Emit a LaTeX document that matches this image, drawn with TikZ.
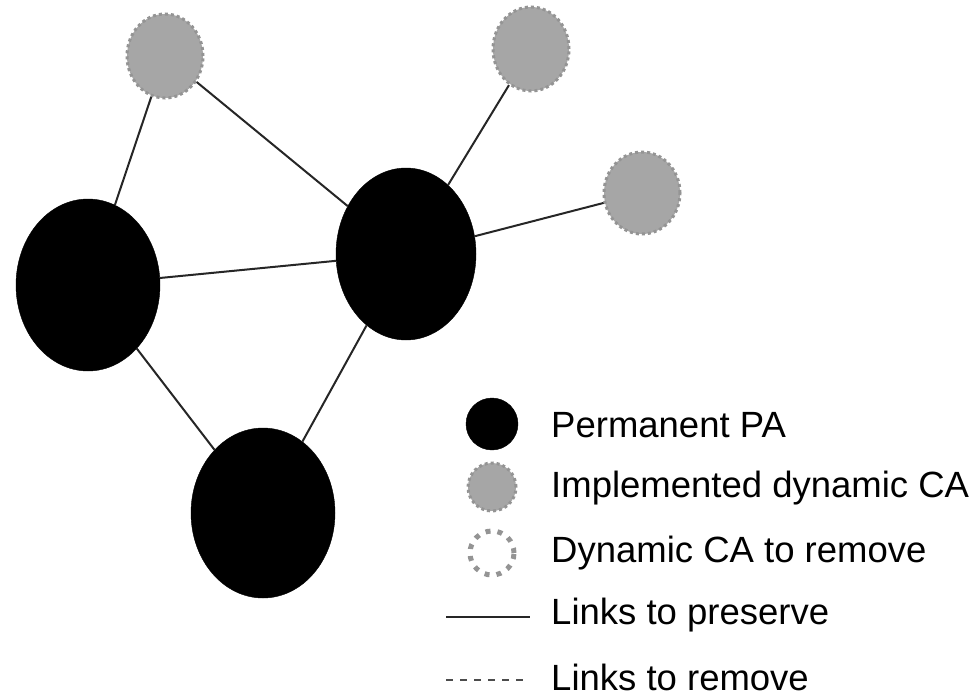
\documentclass[tikz,border=0pt]{standalone}
\usepackage{fontspec}
\setmainfont{Liberation Sans}
\usetikzlibrary{shapes.geometric}
\begin{document}
\begin{tikzpicture}[x=1pt,y=-1pt,
  pa/.style={ellipse,fill=black,draw=black,inner sep=0pt},
  ca/.style={ellipse,fill=black!35,draw=black!42,line width=3pt,dash pattern=on 3pt off 3pt,inner sep=0pt},
  caremove/.style={circle,draw=black!42,line width=5pt,dash pattern=on 5pt off 7pt,inner sep=0pt},
  link/.style={line width=2pt,black!85},
  lbl/.style={anchor=west,font=\fontsize{36.5}{42}\selectfont,inner sep=0pt}]
\useasboundingbox (0,0) rectangle (976,696);
% permanent PAs
\node[pa,minimum width=144pt,minimum height=172pt] (A) at (88,285) {};
\node[pa,minimum width=140pt,minimum height=172pt] (B) at (406,254) {};
\node[pa,minimum width=144pt,minimum height=170pt] (C) at (263,513) {};
% dynamic CAs
\node[ca,minimum width=76pt,minimum height=84pt] (G1) at (165,56) {};
\node[ca,minimum width=76pt,minimum height=84pt] (G2) at (531,49) {};
\node[ca,minimum width=76pt,minimum height=82pt] (G3) at (642,193) {};
% links
\draw[link] (G1) -- (A);
\draw[link] (G1) -- (B);
\draw[link] (A) -- (B);
\draw[link] (A) -- (C);
\draw[link] (B) -- (C);
\draw[link] (B) -- (G2);
\draw[link] (B) -- (G3);
% legend
\node[pa,circle,minimum size=52pt] (L1) at (492,424) {};
\node[ca,circle,minimum size=48pt] (L2) at (492,487) {};
\node[caremove,minimum size=44pt] (L3) at (492,553) {};
\coordinate (L4a) at (446,617);
\coordinate (L4b) at (530,617);
\draw[link] (L4a) -- (L4b);
\coordinate (L5a) at (446,680);
\coordinate (L5b) at (530,680);
\draw[line width=1.4pt,black!70,dash pattern=on 7pt off 7pt] (L5a) -- (L5b);
\node[lbl] (T1) at (551,425) {Permanent PA};
\node[lbl] (T2) at (551,488) {Implemented dynamic CA};
\node[lbl] (T3) at (551,553) {Dynamic CA to remove};
\node[lbl] (T4) at (551,615) {Links to preserve};
\node[lbl] (T5) at (551,677) {Links to remove};
\end{tikzpicture}
\end{document}
